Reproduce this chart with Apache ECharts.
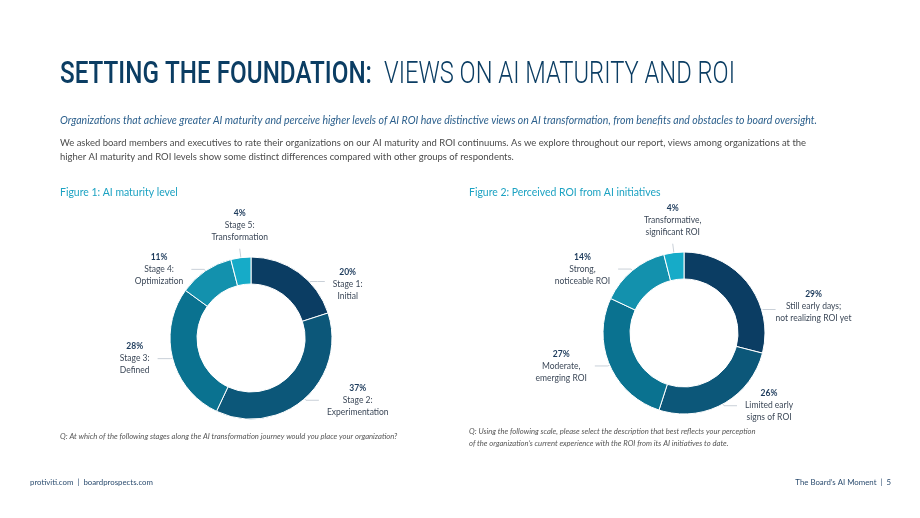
<!DOCTYPE html>
<html>
<head>
<meta charset="utf-8">
<script src="https://cdn.jsdelivr.net/npm/echarts@6/dist/echarts.min.js"></script>
<style>
  html, body { margin: 0; padding: 0; background: #fff; }
  #page { width: 920px; height: 518px; }
</style>
</head>
<body>
<div id="page"></div>
<script>
// figure 1: AI maturity level
const maturityNames = ['Stage 1:\nInitial', 'Stage 2:\nExperimentation', 'Stage 3:\nDefined', 'Stage 4:\nOptimization', 'Stage 5:\nTransformation']
const maturityValues = [20, 37, 28, 11, 4]

// figure 2: perceived ROI
const roiNames = ['Still early days;\nnot realizing ROI yet', 'Limited early\nsigns of ROI', 'Moderate,\nemerging ROI', 'Strong,\nnoticeable ROI', 'Transformative,\nsignificant ROI']
const roiValues = [29, 26, 27, 14, 4]

const sliceColors = ['#0b3d63', '#0c5779', '#0a7290', '#1391ad', '#16abc8']

const titleBold = 'SETTING THE FOUNDATION:'
const titleLight = 'VIEWS ON AI MATURITY AND ROI'
const subtitle = 'Organizations that achieve greater AI maturity and perceive higher levels of AI ROI have distinctive views on AI transformation, from benefits and obstacles to board oversight.'
const bodyLines = [
  'We asked board members and executives to rate their organizations on our AI maturity and ROI continuums. As we explore throughout our report, views among organizations at the',
  'higher AI maturity and ROI levels show some distinct differences compared with other groups of respondents.'
]
const fig1Title = 'Figure 1: AI maturity level'
const fig2Title = 'Figure 2: Perceived ROI from AI initiatives'
const fig1Question = 'Q: At which of the following stages along the AI transformation journey would you place your organization?'
const fig2Question = [
  'Q: Using the following scale, please select the description that best reflects your perception',
  'of the organization\u2019s current experience with the ROI from its AI initiatives to date.'
]
const footerLeft = 'protiviti.com  |  boardprospects.com'
const footerRight = 'The Board\u2019s AI Moment  |  5'

const measureCtx = document.createElement('canvas').getContext('2d')
const textWidth = (text, font) => {
  measureCtx.font = font
  return measureCtx.measureText(text).width
}
// font size so a line spans the given width
const fitSize = (text, style, weight, family, width) => {
  const w = textWidth(text, `${style} ${weight} 20px ${family}`)
  return 20 * width / w
}

const chart = echarts.init(document.getElementById('page'), null, { renderer: 'canvas' })

const titleFontB = '500 32px Roboto, "DejaVu Sans", sans-serif'
const titleFontL = '300 32px Roboto, "DejaVu Sans", sans-serif'
const scaleB = 312 / textWidth(titleBold, titleFontB)
const scaleL = 351 / textWidth(titleLight, titleFontL)

const textEl = (text, x, y, font, fill, align) => ({
  type: 'text', x: x, y: y, silent: true,
  style: {
    text: text, font: font, fill: fill,
    textAlign: align || 'left', align: align || 'left',
    textVerticalAlign: 'middle', verticalAlign: 'middle'
  }
})

const lato = 'Lato, "Noto Sans", sans-serif'
const subSize = fitSize(subtitle, 'italic', 'normal', 'Lato', 758)
const bodySize = fitSize(bodyLines[0], 'normal', 'normal', 'Lato', 747)
const figSize = fitSize(fig1Title, 'normal', 'normal', 'Lato', 118)
const qSize = fitSize(fig1Question, 'italic', 'normal', 'Lato', 338)
const footSize = fitSize(footerLeft, 'normal', 'normal', 'Lato', 123)

const titleB = textEl(titleBold, 60, 75, titleFontB, '#0b3d63')
titleB.scaleX = scaleB
const titleL = textEl(titleLight, 384, 75, titleFontL, '#0b3d63')
titleL.scaleX = scaleL

const graphics = [
  titleB,
  titleL,
  textEl(subtitle, 60, 121, `italic ${subSize}px ${lato}`, '#2b5f8c'),
  textEl(bodyLines[0], 60, 143, `${bodySize}px ${lato}`, '#4a4a4a'),
  textEl(bodyLines[1], 60, 157, `${bodySize}px ${lato}`, '#4a4a4a'),
  textEl(fig1Title, 60, 193, `${figSize}px ${lato}`, '#1ca2c2'),
  textEl(fig2Title, 469, 193, `${figSize}px ${lato}`, '#1ca2c2'),
  textEl(fig1Question, 60, 437, `italic ${qSize}px ${lato}`, '#555'),
  textEl(fig2Question[0], 469, 432, `italic ${qSize}px ${lato}`, '#555'),
  textEl(fig2Question[1], 469, 444, `italic ${qSize}px ${lato}`, '#555'),
  textEl(footerLeft, 30, 482, `${footSize}px ${lato}`, '#2b4c6f'),
  textEl(footerRight, 891, 482, `${footSize}px ${lato}`, '#2b4c6f', 'right')
]

const labelFormatter = p => '{p|' + p.value + '%}\n' + p.name.split('\n').map(s => '{t|' + s + '}').join('\n')

const innerR = 54
const outerR = 81

// lead: nudges the first slice's label below its default spot, with a flat leader
const donut = (center, names, values, lead) => ({
  type: 'pie',
  center: center,
  radius: [innerR, outerR],
  startAngle: 90,
  clockwise: true,
  avoidLabelOverlap: false,
  animation: false,
  emphasis: { disabled: true },
  itemStyle: { borderColor: '#ffffff', borderWidth: 1 },
  label: {
    position: 'outside',
    formatter: labelFormatter,
    distanceToLabelLine: 8,
    fontFamily: 'Lato',
    rich: {
      p: { align: 'center', fontWeight: 'bold', fontSize: 8.5, color: '#1d3b5c', lineHeight: 12, fontFamily: 'Lato' },
      t: { align: 'center', fontSize: 8.5, color: '#3c4858', lineHeight: 12, fontFamily: 'Lato' }
    }
  },
  labelLine: { length: 2, length2: 13, lineStyle: { color: '#c9d0d8', width: 1 } },
  labelLayout: params => {
    if (params.dataIndex === 4) {
      return { align: 'center', verticalAlign: 'bottom', dy: -5 }
    }
    if (params.dataIndex === 0 && params.labelLinePoints) {
      // keep the leader horizontal, from the ring edge to the moved label
      const end = params.labelLinePoints[params.labelLinePoints.length - 1]
      const y = Math.round(end[1] + lead.dy + lead.lineDy) + 0.5
      const dyc = y - center[1]
      const x0 = center[0] + Math.sqrt(Math.max(0, outerR * outerR - dyc * dyc)) + 1
      const x1 = end[0] + lead.dx + lead.lineExtra
      return {
        dx: lead.dx,
        dy: lead.dy,
        labelLinePoints: [[x0, y], [(x0 + x1) / 2, y], [x1, y]]
      }
    }
    return {}
  },
  data: values.map((v, i) => {
    const item = { value: v, name: names[i] }
    if (i === 4) {
      item.labelLine = { length: 9, length2: 0 }
      item.label = { distanceToLabelLine: 0 }
    }
    return item
  })
})

chart.setOption({
  animation: false,
  color: sliceColors,
  graphic: graphics,
  series: [
    donut([251, 338], maturityNames, maturityValues, { dx: 12, dy: 13, lineDy: -3, lineExtra: 0 }),
    donut([684, 333], roiNames, roiValues, { dx: 5, dy: 24, lineDy: 3, lineExtra: 8 })
  ]
})
</script>
</body>
</html>
